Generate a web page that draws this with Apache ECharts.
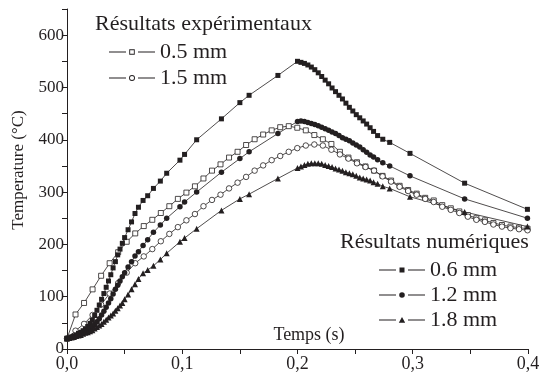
<!DOCTYPE html>
<html>
<head>
<meta charset="utf-8">
<script src="https://cdn.jsdelivr.net/npm/echarts@6/dist/echarts.min.js"></script>
<style>html,body{margin:0;padding:0;background:#fff}#c{width:539px;height:376px}</style>
</head>
<body>
<div id="c"></div>
<script>
// Experimental time samples (s)
const tExp = [0, 0.0074, 0.0148, 0.0222, 0.0296, 0.037, 0.0444, 0.0518, 0.0592, 0.0666, 0.074, 0.0814, 0.0888, 0.0962, 0.1036, 0.111, 0.1184, 0.1258, 0.1332, 0.1406, 0.148, 0.1554, 0.1628, 0.1702, 0.1776, 0.185, 0.1924, 0.1998, 0.2072, 0.2146, 0.222, 0.2294, 0.2368, 0.2442, 0.2516, 0.259, 0.2664, 0.2738, 0.2812, 0.2886, 0.296, 0.3034, 0.3108, 0.3182, 0.3256, 0.333, 0.3404, 0.3478, 0.3552, 0.3626, 0.37, 0.3774, 0.3848, 0.3922, 0.3996];
// Experimental 0.5 mm (open squares)
const exp05 = [20, 66, 88, 114, 140, 164, 185, 205, 221, 235, 247, 260, 273, 287, 299, 311, 326, 341, 353, 366, 377, 390, 401, 410, 418, 424, 426, 423, 418, 409, 401, 392, 377, 366, 357, 349, 341, 331, 322, 312, 304, 297, 289, 284, 275, 269, 263, 256, 250, 246, 241, 237, 234, 232, 230];
// Experimental 1.5 mm (open circles)
const exp15 = [20, 35, 48, 65, 85, 106, 126, 146, 164, 177, 191, 206, 220, 233, 246, 258, 273, 285, 295, 307, 318, 329, 341, 351, 361, 369, 377, 384, 389, 391, 389, 381, 372, 364, 355, 348, 341, 330, 320, 310, 302, 295, 287, 281, 272, 266, 260, 253, 247, 243, 238, 234, 231, 229, 227];

// Numerical time samples (s)
const tNum = [0, 0.002, 0.004, 0.006, 0.008, 0.010, 0.012, 0.014, 0.016, 0.018, 0.020, 0.022, 0.024, 0.026, 0.028, 0.030, 0.032, 0.034, 0.036, 0.038, 0.040, 0.042, 0.044, 0.046, 0.048, 0.050, 0.053, 0.056, 0.059, 0.062, 0.066, 0.070, 0.075, 0.081, 0.0865, 0.098, 0.102, 0.1125, 0.134, 0.150, 0.158, 0.183, 0.200, 0.203, 0.206, 0.209, 0.212, 0.215, 0.218, 0.221, 0.224, 0.227, 0.230, 0.233, 0.236, 0.239, 0.242, 0.245, 0.248, 0.251, 0.254, 0.257, 0.260, 0.263, 0.266, 0.2695, 0.274, 0.280, 0.2976, 0.345, 0.3995];
// Numerical 0.6 mm (filled squares)
const num06 = [20, 21, 23, 25, 27, 30, 32, 35, 38, 43, 49, 55, 64, 74, 84, 95, 106, 118, 130, 142, 155, 167, 180, 191, 202, 213, 228, 243, 259, 271, 284, 293, 307, 321, 336, 361, 372, 400, 440, 471, 485, 523, 550, 548, 546, 543, 539, 534, 528, 521, 514, 507, 499, 492, 485, 478, 470, 462, 455, 448, 442, 436, 430, 423, 416, 408, 401, 395, 374, 317, 267];
// Numerical 1.2 mm (filled circles)
const num12 = [20, 21, 23, 24, 26, 28, 30, 32, 34, 36, 40, 43, 47, 52, 58, 65, 72, 80, 88, 96, 105, 114, 122, 130, 138, 146, 157, 167, 178, 186, 198, 209, 223, 237, 250, 272, 281, 300, 338, 364, 377, 412, 435, 436, 435, 433, 431, 429, 427, 424, 421, 418, 415, 412, 408, 404, 401, 398, 394, 390, 386, 381, 376, 371, 367, 362, 356, 350, 331, 287, 250];
// Numerical 1.8 mm (filled triangles)
const num18 = [20, 21, 22, 23, 25, 26, 27, 29, 31, 32, 34, 36, 39, 42, 45, 48, 52, 56, 60, 64, 68, 73, 78, 83, 88, 95, 104, 114, 124, 134, 145, 151, 159, 171, 183, 205, 212, 230, 265, 287, 296, 326, 346, 349, 352, 354, 355, 355, 355, 354, 352, 350, 348, 345, 343, 341, 338, 336, 334, 331, 328, 326, 324, 322, 319, 316, 311, 307, 291, 262, 234];

const expNames = ['0.5 mm', '1.5 mm'];
const numNames = ['0.6 mm', '1.2 mm', '1.8 mm'];
const legendTitles = ['Résultats expérimentaux', 'Résultats numériques'];
const xTitle = 'Temps (s)';
const yTitle = 'Temperature (°C)';

const FONT = 'Liberation Serif';
const INK = '#231f20';

// Legend icons: dash - marker - dash (46 x 7 box)
const PAD = 'M0,0 L0,0 Z M46,7 L46,7 Z ';
const DASHES = 'M0,3.1 L17,3.1 L17,3.9 L0,3.9 Z M29,3.1 L46,3.1 L46,3.9 L29,3.9 Z ';
const ICONS = {
  hollowSquare: 'path://' + PAD + DASHES + 'M20.25,0.75 L25.75,0.75 L25.75,6.25 L20.25,6.25 Z M21.15,1.65 L21.15,5.35 L24.85,5.35 L24.85,1.65 Z',
  hollowCircle: 'path://' + PAD + DASHES + 'M26,3.5 A3,3 0 1,1 20,3.5 A3,3 0 1,1 26,3.5 Z M25.1,3.5 A2.1,2.1 0 1,0 20.9,3.5 A2.1,2.1 0 1,0 25.1,3.5 Z',
  square: 'path://' + PAD + DASHES + 'M20.5,1 L25.5,1 L25.5,6 L20.5,6 Z',
  circle: 'path://' + PAD + DASHES + 'M25.8,3.5 A2.8,2.8 0 1,1 20.2,3.5 A2.8,2.8 0 1,1 25.8,3.5 Z',
  triangle: 'path://' + PAD + DASHES + 'M23,0.4 L26.2,6.2 L19.8,6.2 Z'
};

function pairs(t, v) { return t.map((x, i) => [x, v[i]]); }

function mk(name, t, v, symbol, size, hollow) {
  return {
    name: name,
    type: 'line',
    data: pairs(t, v),
    symbol: symbol,
    symbolSize: size,
    showAllSymbol: true,
    lineStyle: { color: INK, width: 0.8 },
    itemStyle: hollow ? { color: '#fff', borderColor: INK, borderWidth: 0.8 } : { color: INK, borderWidth: 0 },
    emphasis: { disabled: true },
    animation: false
  };
}

const legendCommon = {
  orient: 'vertical', itemWidth: 46, itemHeight: 7,
  textStyle: { fontFamily: FONT, fontSize: 22, color: INK },
  itemStyle: { color: INK, borderWidth: 0 },
  selectedMode: false
};

const chart = echarts.init(document.getElementById('c'), null, { renderer: 'canvas' });
chart.setOption({
  backgroundColor: '#fff',
  animation: false,
  textStyle: { fontFamily: FONT, color: INK },
  grid: { left: 67, right: 11, top: 9, bottom: 27, containLabel: false, outerBoundsMode: 'none' },
  xAxis: {
    type: 'value', min: 0, max: 0.4, interval: 0.05,
    name: xTitle, nameLocation: 'middle', nameGap: -23, nameMoveOverlap: false,
    nameTextStyle: { fontFamily: FONT, fontSize: 18, color: INK, padding: [0, 0, 0, 23] },
    axisLine: { show: true, lineStyle: { color: INK, width: 1 } },
    axisTick: { show: true, length: 5, lineStyle: { color: INK, width: 1 } },
    splitLine: { show: false },
    axisLabel: {
      fontFamily: FONT, fontSize: 18, color: INK, margin: 6,
      formatter: function (v) { return Math.round(v * 100) % 10 === 0 ? v.toFixed(1).replace('.', ',') : ''; }
    }
  },
  yAxis: {
    type: 'value', min: 0, max: 650, interval: 50,
    name: yTitle, nameLocation: 'middle', nameRotate: 90, nameGap: 40, nameMoveOverlap: false,
    nameTextStyle: { fontFamily: FONT, fontSize: 17, color: INK, padding: [0, 0, 0, 18] },
    axisLine: { show: true, lineStyle: { color: INK, width: 1 } },
    axisTick: { show: true, length: 5, lineStyle: { color: INK, width: 1 } },
    splitLine: { show: false },
    axisLabel: {
      fontFamily: FONT, fontSize: 17, color: INK, margin: 3,
      formatter: function (v) { return v % 100 === 0 && v <= 600 ? String(v) : ''; }
    }
  },
  legend: [
    Object.assign({}, legendCommon, {
      data: [{ name: expNames[0], icon: ICONS.hollowSquare }, { name: expNames[1], icon: ICONS.hollowCircle }],
      left: 104, top: 36, itemGap: 4
    }),
    Object.assign({}, legendCommon, {
      data: [{ name: numNames[0], icon: ICONS.square }, { name: numNames[1], icon: ICONS.circle }, { name: numNames[2], icon: ICONS.triangle }],
      left: 374, top: 254, itemGap: 3
    })
  ],
  graphic: [
    { type: 'text', left: 95, top: 13, style: { text: legendTitles[0], font: '22px "Liberation Serif"', fill: INK } },
    { type: 'text', left: 340, top: 231, style: { text: legendTitles[1], font: '22px "Liberation Serif"', fill: INK } }
  ],
  series: [
    mk(expNames[0], tExp, exp05, 'rect', 5, true),
    mk(expNames[1], tExp, exp15, 'circle', 5.5, true),
    mk(numNames[0], tNum, num06, 'rect', 5, false),
    mk(numNames[1], tNum, num12, 'circle', 5.5, false),
    mk(numNames[2], tNum, num18, 'triangle', 6, false)
  ]
});
</script>
</body>
</html>
